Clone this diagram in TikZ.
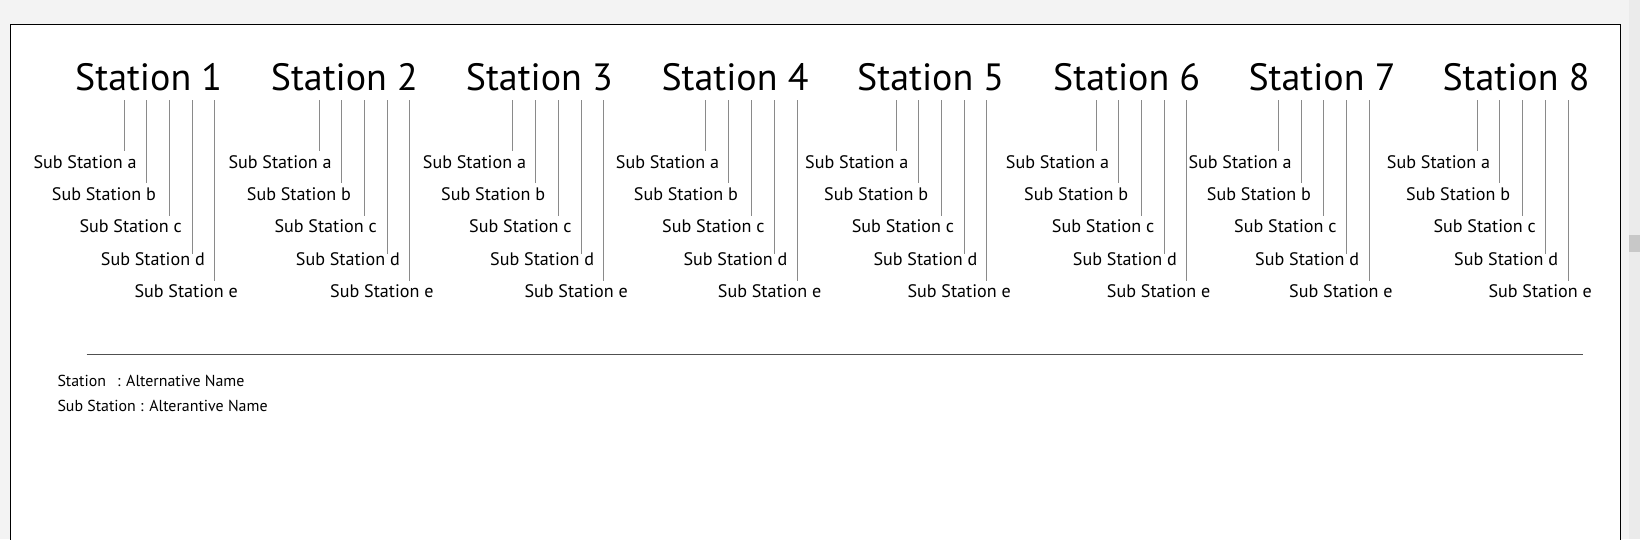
\documentclass[tikz,border=0pt]{standalone}
\usepackage{fontspec}
\setmainfont{PT Sans}
\definecolor{bggray}{HTML}{F3F3F3}
\definecolor{trackgray}{HTML}{EBEBEB}
\definecolor{thumbgray}{HTML}{C8C8C8}
\definecolor{linegray}{HTML}{8A8A8A}
\definecolor{rulegray}{HTML}{505050}
\begin{document}
\begin{tikzpicture}[x=1pt,y=-1pt,
  stitle/.style={anchor=base west, inner sep=0pt, font=\fontsize{38}{38}\selectfont},
  ssub/.style={anchor=base west, inner sep=0pt, font=\fontsize{18.1}{18.1}\selectfont},
  slegend/.style={anchor=base west, inner sep=0pt, font=\fontsize{15.9}{15.9}\selectfont},
  subline/.style={draw=linegray, line width=0.9pt},
  hrule/.style={draw=rulegray, line width=1pt}]
\useasboundingbox (0,0) rectangle (1640,539);
\fill[bggray] (0,0) rectangle (1640,539);
\fill[trackgray] (1628.7,0) rectangle (1640,539);
\fill[thumbgray] (1629,235) rectangle (1640,252);
\fill[white] (10.3,24.3) rectangle (1620.5,539);
\draw[black, line width=1pt] (10.3,540) -- (10.3,24.3) -- (1620.5,24.3) -- (1620.5,540);
\foreach \k/\tx/\la/\lb/\lc/\ld/\le/\sa/\sb/\sc/\sd/\se in {
  1/75/124/146.7/169.7/192/214.7/33.3/51.7/79.3/100.7/134.3,
  2/270.7/319/341.3/364.3/387/409.7/228.3/246.7/274.3/295.7/330,
  3/465.7/512.7/535.7/558.7/581.3/603.7/422.7/441/469/490/524.3,
  4/661.3/705.7/728.3/751.3/774/797/615.7/633.7/662/683.3/717.7,
  5/857/896/918.7/941.7/964.3/986.7/805/824/851.6/873.3/907.3,
  6/1053/1096/1118.7/1141.7/1164/1186.7/1005.7/1024/1051.7/1072.7/1106.7,
  7/1248.3/1278.3/1301/1323.3/1346.7/1369.3/1188.3/1206.7/1234/1255/1289,
  8/1442.3/1477/1499.7/1522.3/1545.3/1568/1386.7/1406/1433.3/1454/1488.3} {
  \node[stitle] (t\k) at (\tx,90.7) {Station \k};
  \node[ssub] (s\k-a) at (\sa,168.3) {Sub Station a};
  \node[ssub] (s\k-b) at (\sb,200) {Sub Station b};
  \node[ssub] (s\k-c) at (\sc,232.7) {Sub Station c};
  \node[ssub] (s\k-d) at (\sd,265) {Sub Station d};
  \node[ssub] (s\k-e) at (\se,297) {Sub Station e};
  \draw[subline] (\la,100) -- (\la,151);
  \draw[subline] (\lb,100) -- (\lb,182.5);
  \draw[subline] (\lc,100) -- (\lc,216);
  \draw[subline] (\ld,100) -- (\ld,253.5);
  \draw[subline] (\le,100) -- (\le,281);
}
\coordinate (rl) at (86.5,354.3);
\coordinate (rr) at (1582.5,354.3);
\draw[hrule] (rl) -- (rr);
\node[slegend] (l1) at (57.3,386.7) {Station\hspace{11pt}: Alternative Name};
\node[slegend] (l2) at (57.3,411.7) {Sub Station : Alterantive Name};
\end{tikzpicture}
\end{document}
